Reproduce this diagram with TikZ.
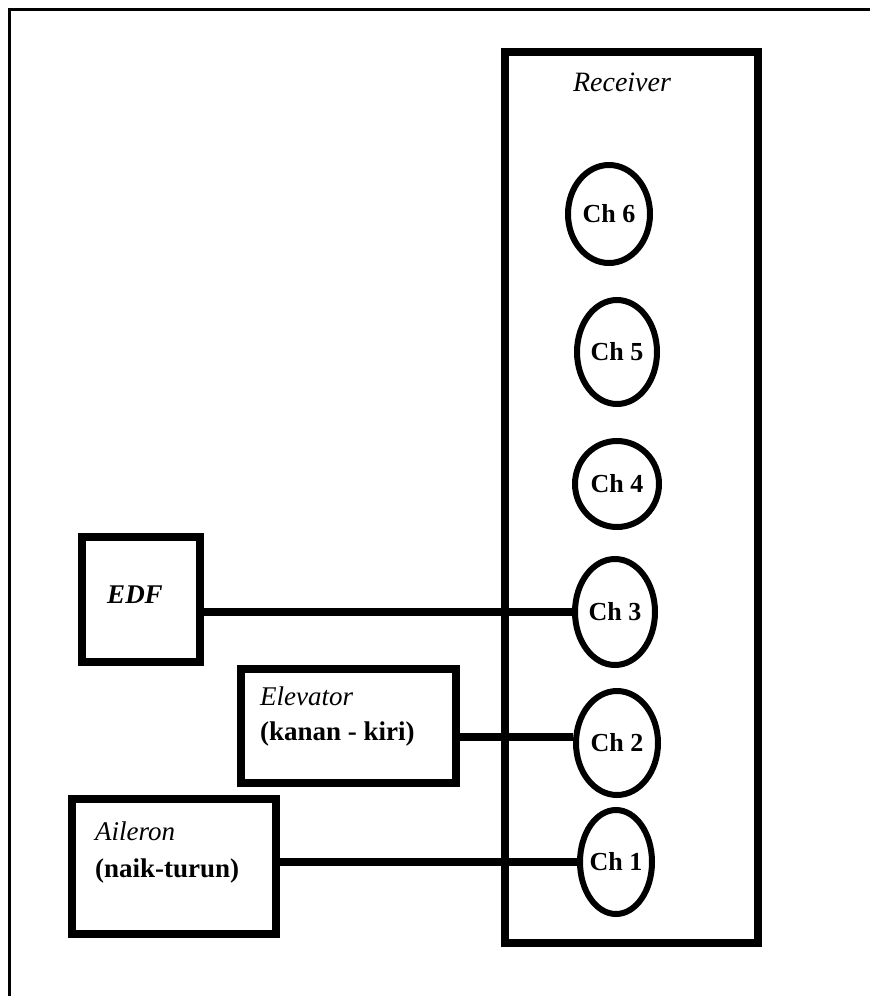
\documentclass[tikz,border=0pt]{standalone}
\usepackage{fontspec}
\setmainfont{Liberation Serif}
\usetikzlibrary{shapes.geometric}
\begin{document}
\begin{tikzpicture}[x=1pt,y=-1pt,
  box/.style={draw,rectangle,line width=8.5pt,inner sep=0pt},
  chel/.style={draw,ellipse,line width=6pt,inner sep=0pt},
  chtext/.style={font=\fontsize{26}{30}\selectfont\bfseries,inner sep=0pt},
  ittext/.style={font=\fontsize{27}{31}\selectfont\itshape,inner sep=0pt},
  bftext/.style={font=\fontsize{27}{31}\selectfont\bfseries,inner sep=0pt},
  conn/.style={line width=8.5pt}]
\useasboundingbox (0,0) rectangle (870,996);
\fill[white] (0,0) rectangle (870,996);
% outer frame (only top and left edges visible)
\draw[line width=3pt] (9.5,996) -- (9.5,9) -- (870,9);

% receiver
\node[box,minimum width=253pt,minimum height=891pt] (rx) at (631.5,497.5) {};
\node[ittext,font=\fontsize{28}{32}\selectfont\itshape] (rxlabel) at (622,82) {Receiver};

% channels
\node[chel,minimum width=82pt,minimum height=98pt] (ch6) at (609,214) {};
\node[chel,minimum width=80pt,minimum height=104pt] (ch5) at (617,352) {};
\node[chel,minimum width=84pt,minimum height=86pt] (ch4) at (617,484) {};
\node[chel,minimum width=80pt,minimum height=106pt] (ch3) at (615,612) {};
\node[chel,minimum width=82pt,minimum height=104pt] (ch2) at (617,743) {};
\node[chel,minimum width=72pt,minimum height=104pt] (ch1) at (616,862) {};
\node[chtext] (t6) at (ch6) {Ch 6};
\node[chtext] (t5) at (ch5) {Ch 5};
\node[chtext] (t4) at (ch4) {Ch 4};
\node[chtext] (t3) at (ch3) {Ch 3};
\node[chtext] (t2) at (ch2) {Ch 2};
\node[chtext] (t1) at (ch1) {Ch 1};

% devices
\node[box,minimum width=118pt,minimum height=125pt] (edf) at (141,599.5) {};
\node[ittext,font=\fontsize{27}{31}\selectfont\bfseries\itshape] (edft) at (135,595) {EDF};

\node[box,minimum width=215pt,minimum height=114pt] (elev) at (348.5,726) {};
\node[ittext,anchor=base west] (elevt1) at (260,705) {Elevator};
\node[bftext,anchor=base west] (elevt2) at (260,740) {(kanan - kiri)};

\node[box,minimum width=204pt,minimum height=135pt] (ail) at (174,866.5) {};
\node[ittext,anchor=base west] (ailt1) at (95,840) {Aileron};
\node[bftext,anchor=base west] (ailt2) at (95,877) {(naik-turun)};

% connectors
\draw[conn] (edf.east |- ch3.west) -- (ch3.west);
\draw[conn] (elev.east |- ch2.172) -- (ch2.172);
\draw[conn] (ail.east |- ch1.west) -- (ch1.west);
\end{tikzpicture}
\end{document}
